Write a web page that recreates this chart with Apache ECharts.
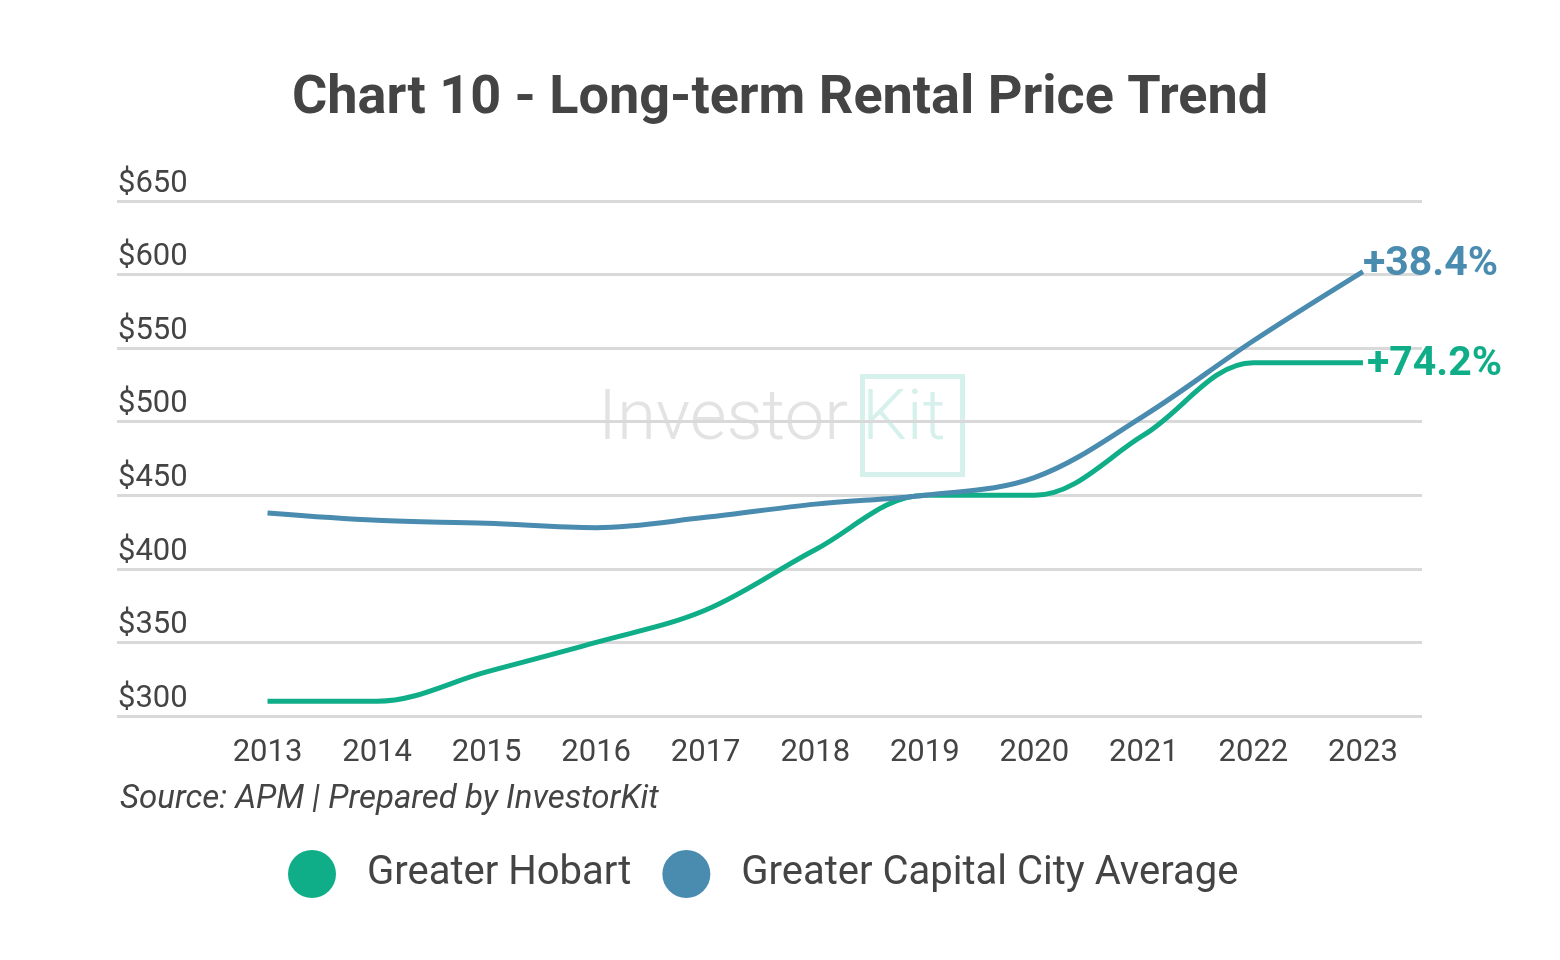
<!DOCTYPE html>
<html>
<head>
<meta charset="utf-8">
<script src="https://cdn.jsdelivr.net/npm/echarts@6/dist/echarts.min.js"></script>
<style>html,body{margin:0;padding:0;background:#fff}#c{width:1560px;height:960px}</style>
</head>
<body>
<div id="c"></div>
<script>
const years = [2013, 2014, 2015, 2016, 2017, 2018, 2019, 2020, 2021, 2022, 2023];
const hobart = [310, 310, 330, 350, 372, 413, 450, 450, 491, 540, 540];
const capital = [438, 433, 431, 428, 435, 444, 450, 462, 504, 555, 602];
const seriesNames = ['Greater Hobart', 'Greater Capital City Average'];
const endLabels = ['+74.2%', '+38.4%'];
const yTicks = [300, 350, 400, 450, 500, 550, 600, 650];

const GREEN = '#10ae88';
const BLUE = '#4a8cb0';
const TEXT = '#444444';

const chart = echarts.init(document.getElementById('c'));
const pairs = arr => years.map((y, i) => [y, arr[i]]);

chart.setOption({
  backgroundColor: '#ffffff',
  animation: false,
  title: {
    text: 'Chart 10 - Long-term Rental Price Trend',
    left: 'center',
    top: 67,
    textStyle: { fontFamily: 'Roboto', fontWeight: 'bold', fontSize: 54, color: TEXT }
  },
  graphic: [
    { type: 'text', left: 598, top: 386, z: 0, silent: true,
      style: { text: 'Investor', fontFamily: 'Roboto', fontWeight: 300, fontSize: 71, fill: '#e3e3e3' } },
    { type: 'rect', left: 860, top: 374, z: 0, silent: true,
      shape: { width: 100, height: 98 }, style: { fill: 'none', stroke: '#d6f1eb', lineWidth: 5 } },
    { type: 'text', left: 862, top: 386, z: 0, silent: true,
      style: { text: 'Kit', fontFamily: 'Roboto', fontWeight: 300, fontSize: 71, fill: '#d6f1eb' } },
    { type: 'text', left: 120, top: 783, silent: true,
      style: { text: 'Source: APM | Prepared by InvestorKit', fontFamily: 'Roboto', fontStyle: 'italic', fontSize: 33, fill: TEXT } }
  ],
  legend: {
    data: seriesNames,
    left: 283,
    top: 845,
    icon: 'circle',
    itemWidth: 48,
    itemHeight: 48,
    itemGap: 31,
    textStyle: { fontFamily: 'Roboto', fontSize: 40, color: TEXT, padding: [0, 0, 0, 26] }
  },
  grid: { left: 117, right: 138, top: 201, bottom: 244, containLabel: false },
  xAxis: {
    type: 'value',
    min: 2011.626,
    max: 2023.539,
    axisLine: { show: false },
    axisTick: { show: false },
    splitLine: { show: false },
    axisLabel: {
      customValues: years,
      margin: 22,
      fontFamily: 'Roboto', fontSize: 31, color: TEXT,
      formatter: v => String(Math.round(v))
    }
  },
  yAxis: {
    type: 'value',
    min: 300,
    max: 650,
    interval: 50,
    axisLine: { show: false },
    axisTick: { show: false },
    splitLine: { lineStyle: { color: '#d9d9d9', width: 3 } },
    axisLabel: {
      inside: true,
      margin: 1,
      align: 'left',
      verticalAlign: 'bottom',
      lineHeight: 32,
      padding: [0, 0, 1, 0],
      fontFamily: 'Roboto', fontSize: 31, color: TEXT,
      formatter: v => '$' + v
    }
  },
  series: [
    {
      name: seriesNames[0], type: 'line', smooth: 0.35, data: pairs(hobart),
      showSymbol: false, symbol: 'none', z: 3,
      itemStyle: { color: GREEN },
      lineStyle: { color: GREEN, width: 5 },
      endLabel: { show: true, formatter: endLabels[0], distance: 4, offset: [0, 2],
        fontFamily: 'Roboto', fontWeight: 'bold', fontSize: 41, color: GREEN }
    },
    {
      name: seriesNames[1], type: 'line', smooth: 0.35, data: pairs(capital),
      showSymbol: false, symbol: 'none', z: 4,
      itemStyle: { color: BLUE },
      lineStyle: { color: BLUE, width: 5 },
      endLabel: { show: true, formatter: endLabels[1], distance: 0, offset: [0, -7],
        fontFamily: 'Roboto', fontWeight: 'bold', fontSize: 41, color: BLUE }
    }
  ]
});
</script>
</body>
</html>
